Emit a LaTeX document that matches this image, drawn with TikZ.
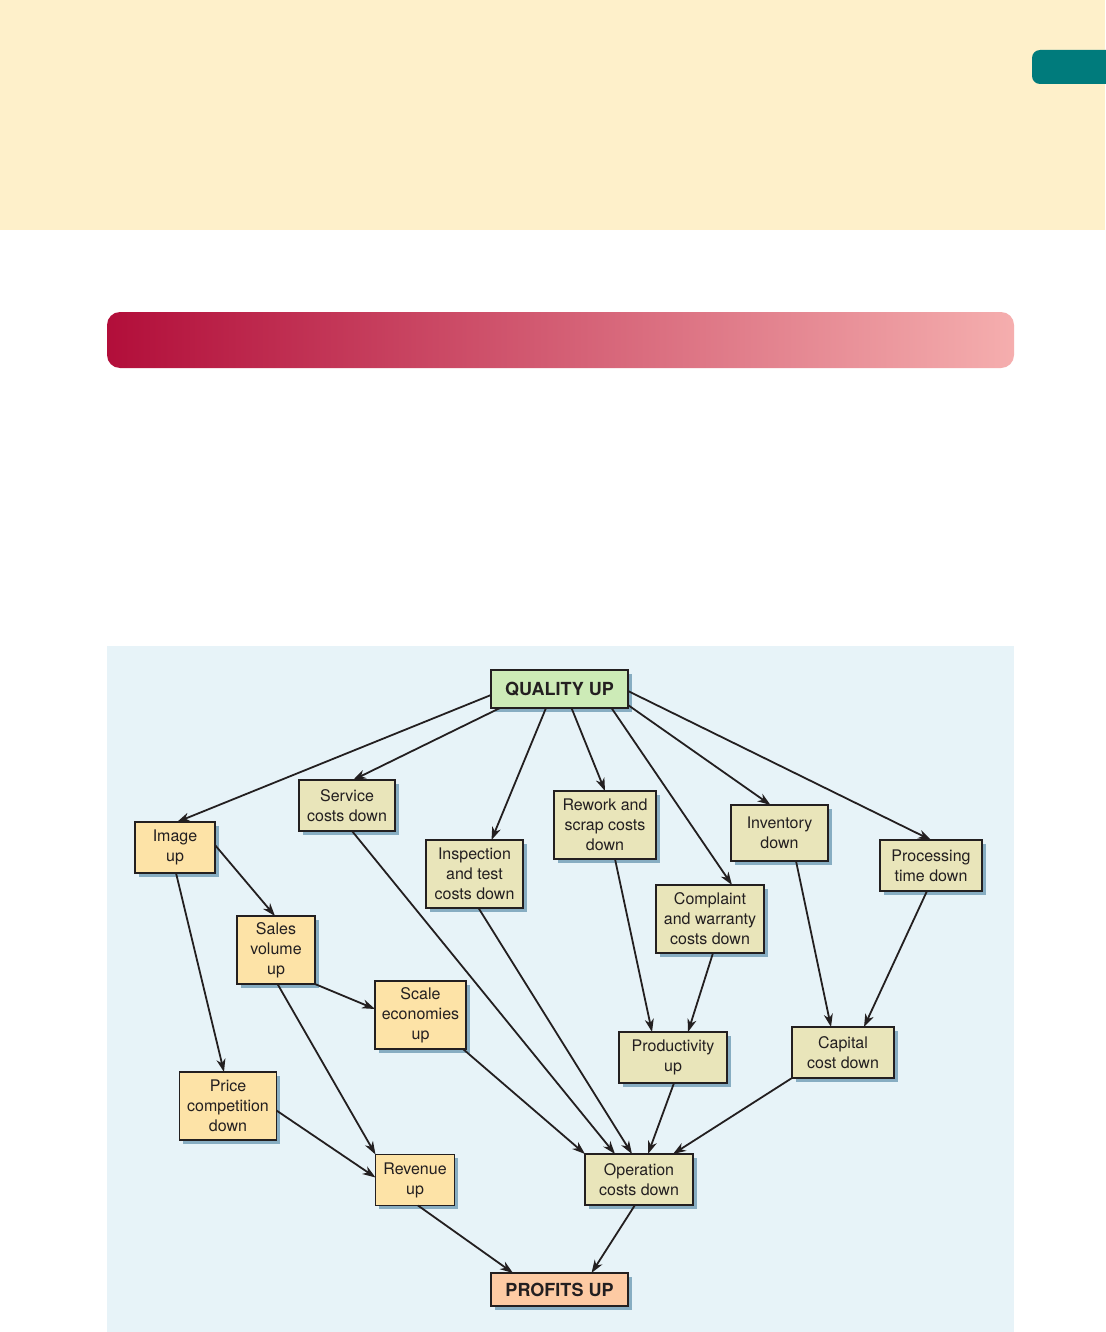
\documentclass[tikz,border=0pt]{standalone}
\usepackage{fontspec}
\setmainfont{TeX Gyre Heros}
\usetikzlibrary{arrows.meta,shadows}
\definecolor{creamc}{HTML}{FEF0CA}
\definecolor{tealc}{HTML}{007B7C}
\definecolor{barl}{HTML}{B20E3A}
\definecolor{barr}{HTML}{F5AEAE}
\definecolor{panelc}{HTML}{E7F3F8}
\definecolor{khakic}{HTML}{E9E5BA}
\definecolor{orangec}{HTML}{FDE3A7}
\definecolor{greenc}{HTML}{CDEBB7}
\definecolor{salmonc}{HTML}{FDCAA3}
\definecolor{shadowc}{HTML}{87ADC2}
\definecolor{linec}{HTML}{231F20}
\begin{document}
\begin{tikzpicture}[x=1pt,y=-1pt,
  box/.style={draw=linec, line width=1.3pt, align=center, inner sep=0pt, outer sep=0pt,
    text=linec, font=\fontsize{16}{20}\selectfont,
    drop shadow={shadow xshift=3.5pt, shadow yshift=-3.5pt, fill=shadowc, opacity=1}},
  kbox/.style={box, fill=khakic},
  obox/.style={box, fill=orangec},
  bigbox/.style={box, font=\bfseries\fontsize{18}{22}\selectfont},
  arr/.style={draw=linec, line width=1.8pt, -{Stealth[length=13pt,width=9pt,inset=4pt]}}]
\useasboundingbox (0,0) rectangle (1105,1332);
% backgrounds
\fill[white] (0,0) rectangle (1105,1332);
\fill[creamc] (0,0) rectangle (1105,230);
\fill[tealc, rounded corners=8pt] (1032,50) rectangle (1125,84);
\shade[left color=barl, right color=barr, rounded corners=13pt] (107,312) rectangle (1014,368);
\fill[panelc] (107,646) rectangle (1014,1332);
% nodes
\node[bigbox, fill=greenc, minimum width=137pt, minimum height=38pt] (q) at (559.5,689) {QUALITY UP};
\node[kbox, minimum width=96pt, minimum height=51pt] (svc) at (347,805.5) {Service\\costs down};
\node[obox, minimum width=80pt, minimum height=51pt] (img) at (175,847.5) {Image\\up};
\node[kbox, minimum width=97pt, minimum height=68pt] (insp) at (474.5,874) {Inspection\\and test\\costs down};
\node[kbox, minimum width=102pt, minimum height=68pt] (rew) at (605,825) {Rework and\\scrap costs\\down};
\node[kbox, minimum width=97pt, minimum height=56pt] (inv) at (779.5,833) {Inventory\\down};
\node[kbox, minimum width=102pt, minimum height=51pt] (proc) at (931,865.5) {Processing\\time down};
\node[kbox, minimum width=108pt, minimum height=68pt] (comp) at (710,919) {Complaint\\and warranty\\costs down};
\node[obox, minimum width=78pt, minimum height=68pt] (sales) at (276,950) {Sales\\volume\\up};
\node[obox, minimum width=91pt, minimum height=68pt] (scale) at (420.5,1015) {Scale\\economies\\up};
\node[kbox, minimum width=108pt, minimum height=51pt] (prod) at (673,1057.5) {Productivity\\up};
\node[kbox, minimum width=102pt, minimum height=51pt] (cap) at (843,1052.5) {Capital\\cost down};
\node[obox, minimum width=97pt, minimum height=68pt] (price) at (228,1106) {Price\\competition\\down};
\node[obox, minimum width=79pt, minimum height=51pt] (rev) at (415,1180) {Revenue\\up};
\node[kbox, minimum width=108pt, minimum height=51pt] (op) at (639,1179.5) {Operation\\costs down};
\node[bigbox, fill=salmonc, minimum width=137pt, minimum height=33pt] (prof) at (559.5,1289.5) {PROFITS UP};
% connectors
\draw[arr] ([yshift=-6pt]q.west) -- ([xshift=2pt]img.north);
\draw[arr] ([xshift=9pt]q.south west) -- ([xshift=6pt]svc.north);
\draw[arr] ([xshift=55pt]q.south west) -- ([xshift=17pt]insp.north);
\draw[arr] ([xshift=80.5pt]q.south west) -- (rew.north);
\draw[arr] ([xshift=120.5pt]q.south west) -- ([xshift=22pt]comp.north);
\draw[arr] ([yshift=-16pt]q.east) -- ([xshift=-9pt]inv.north);
\draw[arr] ([yshift=-2pt]q.east) -- (proc.north);
\draw[arr] ([yshift=2.5pt]img.east) -- ([xshift=-1pt]sales.north);
\draw[arr] ([xshift=1pt]img.south) -- ([xshift=-4pt]price.north);
\draw[arr] ([xshift=5pt]svc.south) -- ([xshift=-24pt]op.north);
\draw[arr] ([xshift=4pt]insp.south) -- ([xshift=-7pt]op.north);
\draw[arr] ([xshift=10pt]rew.south) -- ([xshift=-21pt]prod.north);
\draw[arr] ([xshift=3pt]comp.south) -- ([xshift=15pt]prod.north);
\draw[arr] ([xshift=16.5pt]inv.south) -- ([xshift=-12pt]cap.north);
\draw[arr] ([xshift=-4pt]proc.south) -- ([xshift=21pt]cap.north);
\draw[arr] (sales.south east) -- ([yshift=6pt]scale.west);
\draw[arr] ([xshift=1.5pt]sales.south) -- (rev.north west);
\draw[arr] ([xshift=-3pt]scale.south east) -- (op.north west);
\draw[arr] ([yshift=-4.5pt]price.east) -- ([yshift=2.5pt]rev.west);
\draw[arr] ([xshift=1pt]prod.south) -- ([xshift=9pt]op.north);
\draw[arr] (cap.south west) -- ([xshift=34pt]op.north);
\draw[arr] ([xshift=3pt]rev.south) -- ([xshift=22pt]prof.north west);
\draw[arr] ([xshift=-4pt]op.south) -- ([xshift=32pt]prof.north);
\end{tikzpicture}
\end{document}
